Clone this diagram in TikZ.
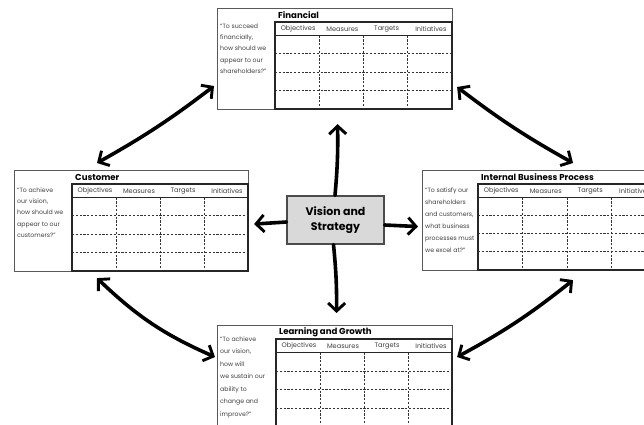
\documentclass[tikz,border=0pt]{standalone}
\usepackage{fontspec}
\setmainfont{Poppins}
\usetikzlibrary{arrows.meta,calc}
\tikzset{
  panelbox/.style={draw=black!65, line width=1.1pt, inner sep=0pt, fill=white},
  tableline/.style={draw=black!85, line width=1.2pt},
  dsh/.style={draw=black!80, line width=0.8pt, dash pattern=on 2.2pt off 1.6pt},
  hdr/.style={font=\fontsize{6.6}{7}\selectfont, text=black!75, inner sep=0pt},
  ttl/.style={font=\bfseries\fontsize{8.6}{9}\selectfont, inner sep=0pt},
  quote/.style={align=left, inner sep=0pt, text=black!75},
  bsctip/.tip={Straight Barb[length=8pt,width=17pt,line width=2.9pt]},
  bigarrow/.style={line width=3.6pt, draw=black, line cap=round},
  vsbox/.style={draw=black!70, line width=1.2pt, fill=black!15, minimum width=97pt, minimum height=48pt, font=\bfseries\fontsize{11}{14.5}\selectfont, align=center, inner sep=0pt},
}
\newcommand\bscpanel[7]{%
  \pgfmathsetmacro\bscW{#4-#2}%
  \pgfmathsetmacro\bscH{#5-#3}%
  \pgfmathsetmacro\bscHT{#3+14}%
  \pgfmathsetmacro\bscHB{#3+27.5}%
  \pgfmathsetmacro\bscRH{(#5-\bscHB)/4}%
  \pgfmathsetmacro\bscCW{(#4-#6)/4}%
  \node[panelbox, anchor=north west, minimum width=\bscW pt, minimum height=\bscH pt] (#1) at (#2,#3) {};
  \draw[tableline] (#6,\bscHT) rectangle (#4,#5);
  \draw[tableline] (#6,\bscHB) -- (#4,\bscHB);
  \foreach \k in {1,2,3}{
    \draw[dsh] (#6,{\bscHB+\k*\bscRH}) -- (#4,{\bscHB+\k*\bscRH});
    \draw[dsh] ({#6+\k*\bscCW},\bscHB) -- ({#6+\k*\bscCW},#5);
  }
  \foreach \i/\lab in {0/Objectives,1/Measures,2/Targets,3/Initiatives}{
    \node[hdr] (#1-h\i) at ({#6+(\i+0.5)*\bscCW+1},{(\bscHT+\bscHB)/2}) {\lab};
  }
  \node[ttl, anchor=west] (#1-t) at (#6+3,#3+7.5) {#7};
}
\begin{document}
\begin{tikzpicture}[x=1pt,y=-1pt]
\useasboundingbox (0,0) rectangle (644,424);
\clip (0,0) rectangle (644,424);
\fill[white] (0,0) rectangle (644,424);

\bscpanel{fin}{217}{8}{452}{109}{275}{Financial}
\node[quote, anchor=north west, font=\fontsize{6.2}{11.25}\selectfont] (fin-q) at (220,23.5)
  {“To succeed\\financially,\\how should we\\appear to our\\shareholders?”};

\bscpanel{cus}{14}{170}{248}{271}{72}{Customer}
\node[quote, anchor=north west, font=\fontsize{6.2}{11.25}\selectfont] (cus-q) at (17,187.5)
  {“To achieve\\our vision,\\how should we\\appear to our\\customers?”};

\bscpanel{ibp}{422}{170}{656}{270}{478}{Internal Business Process}
\node[quote, anchor=north west, font=\fontsize{6.2}{12}\selectfont] (ibp-q) at (425,187.5)
  {“To satisfy our\\shareholders\\and customers,\\what business\\processes must\\we excel at?”};

\bscpanel{lg}{217}{325}{452}{427}{276}{Learning and Growth}
\node[quote, anchor=north west, font=\fontsize{6.2}{12.5}\selectfont] (lg-q) at (220,336.5)
  {“To achieve\\our vision,\\how will\\we sustain our\\ability to\\change and\\improve?”};

\node[vsbox] (vs) at (335.5,220) {Vision and\\Strategy};

% centre arrows
\draw[bigarrow, -bsctip] ($(vs.north)+(-0.5,0)$) to[bend right=3] ($(fin.south)+(2.5,14)$);
\draw[bigarrow, -bsctip] ($(vs.south)+(-2,0)$) to[bend left=3] ($(lg.north)+(1.5,-12)$);
\draw[bigarrow, -bsctip] ($(vs.west)+(0,2)$) -- ($(cus.east)+(5,3)$);
\draw[bigarrow, -bsctip] ($(vs.east)+(0,5)$) -- ($(ibp.west)+(-4,6)$);

% diagonal arrows
\draw[bigarrow, bsctip-bsctip] ($(fin.north west)+(-3,78)$) to[bend left=4] ($(cus.north west)+(83,-7)$);
\draw[bigarrow, bsctip-bsctip] ($(fin.north east)+(4,79)$) to[bend right=4] ($(ibp.north west)+(151,-7)$);
\draw[bigarrow, bsctip-bsctip] ($(cus.south west)+(83,6)$) to[bend right=10] ($(lg.north west)+(-2,32)$);
\draw[bigarrow, bsctip-bsctip] ($(ibp.south west)+(151,9)$) to[bend left=5] ($(lg.north east)+(4,32)$);
\end{tikzpicture}
\end{document}
